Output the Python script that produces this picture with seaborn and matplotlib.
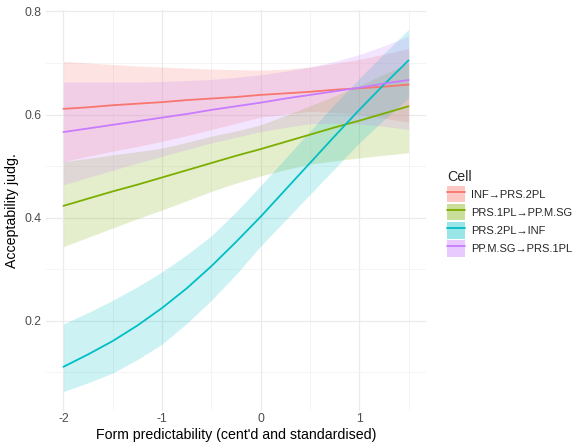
import numpy as np
import pandas as pd
import matplotlib
matplotlib.use("Agg")
import matplotlib.pyplot as plt
import seaborn as sns
from matplotlib.patches import Patch
from matplotlib.lines import Line2D

# categories (legend order) and ggplot default hue colours
cells = ["INF→PRS.2PL", "PRS.1PL→PP.M.SG", "PRS.2PL→INF", "PP.M.SG→PRS.1PL"]
colors = ["#F8766D", "#7CAE00", "#00BFC4", "#C77CFF"]

# predicted lines, read at steps of 0.25
x_line = [-2, -1.75, -1.5, -1.25, -1, -0.75, -0.5, -0.25, 0, 0.25, 0.5, 0.75, 1, 1.25, 1.5]
inf_prs2pl = [0.611, 0.614, 0.618, 0.621, 0.624, 0.628, 0.631, 0.634, 0.638, 0.641, 0.644, 0.648, 0.651, 0.654, 0.658]
prs1pl_ppmsg = [0.423, 0.437, 0.451, 0.464, 0.478, 0.492, 0.506, 0.520, 0.533, 0.547, 0.561, 0.575, 0.588, 0.602, 0.616]
prs2pl_inf = [0.111, 0.135, 0.161, 0.191, 0.225, 0.263, 0.306, 0.353, 0.402, 0.454, 0.506, 0.558, 0.609, 0.658, 0.705]
ppmsg_prs1pl = [0.566, 0.573, 0.580, 0.587, 0.594, 0.601, 0.609, 0.616, 0.623, 0.631, 0.638, 0.645, 0.652, 0.660, 0.667]

# confidence bands, read at steps of 0.25
x_band = x_line
inf_prs2pl_lo = [0.509, 0.519, 0.529, 0.538, 0.548, 0.559, 0.571, 0.583, 0.595, 0.601, 0.606, 0.604, 0.600, 0.593, 0.585]
inf_prs2pl_hi = [0.703, 0.700, 0.697, 0.694, 0.692, 0.690, 0.688, 0.687, 0.686, 0.688, 0.692, 0.699, 0.707, 0.717, 0.728]
prs1pl_ppmsg_lo = [0.344, 0.362, 0.380, 0.398, 0.415, 0.433, 0.451, 0.467, 0.481, 0.493, 0.504, 0.510, 0.516, 0.521, 0.526]
prs1pl_ppmsg_hi = [0.509, 0.515, 0.522, 0.528, 0.535, 0.546, 0.558, 0.568, 0.580, 0.598, 0.617, 0.636, 0.656, 0.678, 0.700]
prs2pl_inf_lo = [0.063, 0.080, 0.099, 0.125, 0.155, 0.195, 0.240, 0.290, 0.345, 0.395, 0.445, 0.495, 0.545, 0.590, 0.632]
prs2pl_inf_hi = [0.194, 0.216, 0.240, 0.266, 0.295, 0.328, 0.365, 0.411, 0.462, 0.515, 0.568, 0.620, 0.670, 0.718, 0.765]
ppmsg_prs1pl_lo = [0.464, 0.478, 0.492, 0.506, 0.519, 0.532, 0.545, 0.556, 0.567, 0.575, 0.582, 0.583, 0.582, 0.577, 0.571]
ppmsg_prs1pl_hi = [0.663, 0.663, 0.663, 0.663, 0.664, 0.666, 0.668, 0.672, 0.677, 0.684, 0.692, 0.703, 0.716, 0.733, 0.752]

lines = [inf_prs2pl, prs1pl_ppmsg, prs2pl_inf, ppmsg_prs1pl]
bands = [(inf_prs2pl_lo, inf_prs2pl_hi), (prs1pl_ppmsg_lo, prs1pl_ppmsg_hi),
         (prs2pl_inf_lo, prs2pl_inf_hi), (ppmsg_prs1pl_lo, ppmsg_prs1pl_hi)]

df = pd.DataFrame({
    "x": np.tile(x_line, len(cells)),
    "y": np.concatenate(lines),
    "Cell": np.repeat(cells, len(x_line)),
})

sns.set_theme(style="whitegrid")
plt.rcParams["font.family"] = ["Liberation Sans", "DejaVu Sans"]

fig = plt.figure(figsize=(5.77, 4.45), dpi=100)
ax = fig.add_axes([0.080, 0.076, 0.658, 0.902])

sns.lineplot(data=df, x="x", y="y", hue="Cell", hue_order=cells,
             palette=colors, linewidth=1.3, legend=False, ax=ax)
for (lo, hi), c in zip(bands, colors):
    ax.fill_between(x_band, lo, hi, color=c, alpha=0.2, linewidth=0)

ax.set_xlim(-2.175, 1.675)
ax.set_ylim(0.025, 0.803)
ax.set_xticks([-2, -1, 0, 1])
ax.set_xticklabels(["-2", "-1", "0", "1"])
ax.set_yticks([0.2, 0.4, 0.6, 0.8])
ax.set_yticklabels(["0.2", "0.4", "0.6", "0.8"])
ax.set_xticks([-1.5, -0.5, 0.5, 1.5], minor=True)
ax.set_yticks([0.1, 0.3, 0.5, 0.7], minor=True)
ax.grid(which="major", color="#EBEBEB", linewidth=0.9)
ax.grid(which="minor", color="#F2F2F2", linewidth=0.6)
ax.tick_params(which="both", length=0, labelsize=8.8, labelcolor="#4D4D4D", pad=3)
ax.tick_params(axis="x", pad=1.5)
for s in ax.spines.values():
    s.set_visible(False)
ax.set_facecolor("white")
ax.set_axisbelow(True)

ax.set_xlabel("Form predictability (cent'd and standardised)", fontsize=10.2, color="black", labelpad=2)
ax.set_ylabel("Acceptability judg.", fontsize=10.2, color="black", labelpad=4)

handles = [(Patch(facecolor=c, alpha=0.4, edgecolor="none"), Line2D([], [], color=c, linewidth=1.3))
           for c in colors]
leg = fig.legend(handles, cells, title="Cell", loc="upper left",
                 bbox_to_anchor=(0.765, 0.63), frameon=False, fontsize=8,
                 title_fontsize=10.2, handlelength=1.6, handleheight=1.9,
                 labelspacing=0.15, handletextpad=0.6, borderpad=0)
leg._legend_box.align = "left"

fig.savefig("out.png", dpi=100)
